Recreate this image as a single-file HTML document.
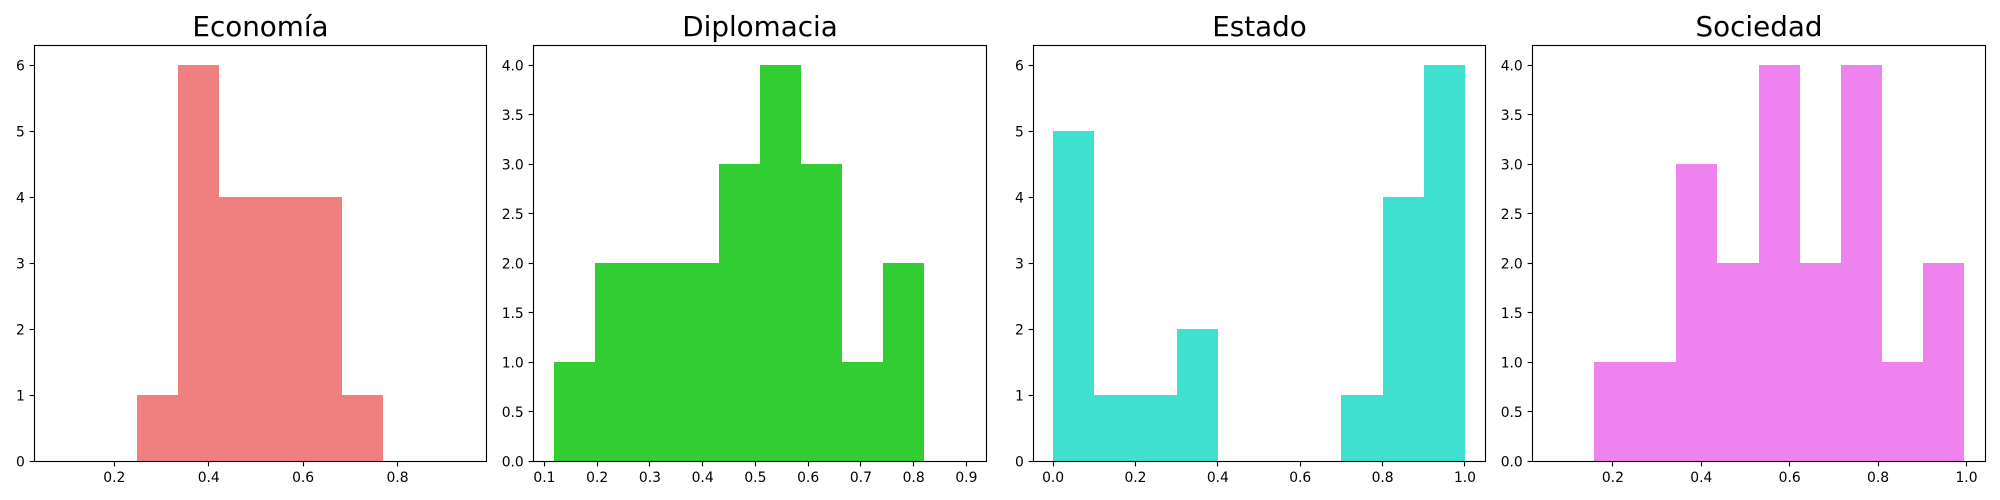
<!DOCTYPE html>
<html lang="es">
<head>
<meta charset="utf-8">
<title>Histogramas</title>
<style>
  html, body { margin: 0; padding: 0; background: #fff; }
  svg { display: block; }
  text { font-family: "DejaVu Sans", "Liberation Sans", sans-serif; fill: #000; }
</style>
</head>
<body>
<svg id="chart" xmlns="http://www.w3.org/2000/svg" width="2000" height="500" viewBox="0 0 2000 500"></svg>
<script>
const economiaEdges = [0.0743, 0.1613, 0.2482, 0.3352, 0.4221, 0.5091, 0.5960, 0.6830, 0.7699, 0.8569, 0.9438];
const economiaCounts = [0, 0, 1, 6, 4, 4, 4, 1, 0, 0];
const economiaXTicks = ["0.2", "0.4", "0.6", "0.8"];
const economiaYTicks = ["0", "1", "2", "3", "4", "5", "6"];

const diplomaciaEdges = [0.1184, 0.1964, 0.2744, 0.3524, 0.4304, 0.5084, 0.5863, 0.6643, 0.7423, 0.8203, 0.8983];
const diplomaciaCounts = [1, 2, 2, 2, 3, 4, 3, 1, 2, 0];
const diplomaciaXTicks = ["0.1", "0.2", "0.3", "0.4", "0.5", "0.6", "0.7", "0.8", "0.9"];
const diplomaciaYTicks = ["0.0", "0.5", "1.0", "1.5", "2.0", "2.5", "3.0", "3.5", "4.0"];

const estadoEdges = [0.0, 0.1, 0.2, 0.3, 0.4, 0.5, 0.6, 0.7, 0.8, 0.9, 1.0];
const estadoCounts = [5, 1, 1, 2, 0, 0, 0, 1, 4, 6];
const estadoXTicks = ["0.0", "0.2", "0.4", "0.6", "0.8", "1.0"];
const estadoYTicks = ["0", "1", "2", "3", "4", "5", "6"];

const sociedadEdges = [0.0642, 0.1572, 0.2502, 0.3432, 0.4362, 0.5296, 0.6224, 0.7152, 0.8082, 0.9012, 0.9942];
const sociedadCounts = [0, 1, 1, 3, 2, 4, 2, 4, 1, 2];
const sociedadXTicks = ["0.2", "0.4", "0.6", "0.8", "1.0"];
const sociedadYTicks = ["0.0", "0.5", "1.0", "1.5", "2.0", "2.5", "3.0", "3.5", "4.0"];

const NS = "http://www.w3.org/2000/svg";
const svg = document.getElementById("chart");

function make(tag, parent, attrs) {
  const el = document.createElementNS(NS, tag);
  for (const k in attrs) el.setAttribute(k, attrs[k]);
  parent.appendChild(el);
  return el;
}
function snap(v) { return Math.floor(v) + 0.5; }

function drawPanel(slug, title, color, edges, counts, xTicks, yTicks, xlim, ylim, box) {
  const xScale = v => box.left + (v - xlim[0]) / (xlim[1] - xlim[0]) * (box.right - box.left);
  const yScale = v => box.bottom - (v - ylim[0]) / (ylim[1] - ylim[0]) * (box.bottom - box.top);

  const panel = make("g", svg, {});
  
  

  const titleEl = make("text", panel, {
    x: (box.left + box.right) / 2, y: 36, "text-anchor": "middle", "font-size": "27.78px"
  });
  titleEl.textContent = title;
  
  

  counts.forEach((count, i) => {
    const x0 = Math.round(xScale(edges[i]));
    const x1 = Math.round(xScale(edges[i + 1]));
    const y1 = Math.round(yScale(count));
    const y0 = Math.floor(yScale(0));
    const bar = make("rect", panel, {
      x: x0, y: y1, width: x1 - x0, height: Math.max(0, y0 - y1), fill: color, "shape-rendering": "crispEdges"
    });
    
    
  });

  xTicks.forEach(label => {
    const px = snap(xScale(parseFloat(label)));
    const tick = make("line", panel, {
      x1: px, x2: px, y1: box.bottom, y2: box.bottom + 4.86, stroke: "#000", "stroke-width": 1.11
    });
    
    
    const txt = make("text", panel, {
      x: xScale(parseFloat(label)), y: 482, "text-anchor": "middle", "font-size": "13.89px"
    });
    txt.textContent = label;
    
    
  });

  yTicks.forEach(label => {
    const py = snap(yScale(parseFloat(label)));
    const tick = make("line", panel, {
      x1: box.left - 4.86, x2: box.left, y1: py, y2: py, stroke: "#000", "stroke-width": 1.11
    });
    
    
    const txt = make("text", panel, {
      x: box.left - 9.72, y: yScale(parseFloat(label)) + 5, "text-anchor": "end", "font-size": "13.89px"
    });
    txt.textContent = label;
    
    
  });

  const frame = make("rect", panel, {
    x: box.left, y: box.top, width: box.right - box.left, height: box.bottom - box.top,
    fill: "none", stroke: "#000", "stroke-width": 1.11
  });
  
  
}

drawPanel("economia", "Economía", "#f08080", economiaEdges, economiaCounts, economiaXTicks, economiaYTicks,
  [0.0308, 0.9886], [0, 6.3], { left: 34.5, right: 486.5, top: 45.5, bottom: 461.5 });
drawPanel("diplomacia", "Diplomacia", "#32cd32", diplomaciaEdges, diplomaciaCounts, diplomaciaXTicks, diplomaciaYTicks,
  [0.0793, 0.9381], [0, 4.2], { left: 533.5, right: 986.5, top: 45.5, bottom: 461.5 });
drawPanel("estado", "Estado", "#40e0d0", estadoEdges, estadoCounts, estadoXTicks, estadoYTicks,
  [-0.0476, 1.0498], [0, 6.3], { left: 1033.5, right: 1485.5, top: 45.5, bottom: 461.5 });
drawPanel("sociedad", "Sociedad", "#ee82ee", sociedadEdges, sociedadCounts, sociedadXTicks, sociedadYTicks,
  [0.0181, 1.043], [0, 4.2], { left: 1532.5, right: 1985.5, top: 45.5, bottom: 461.5 });
</script>
</body>
</html>
